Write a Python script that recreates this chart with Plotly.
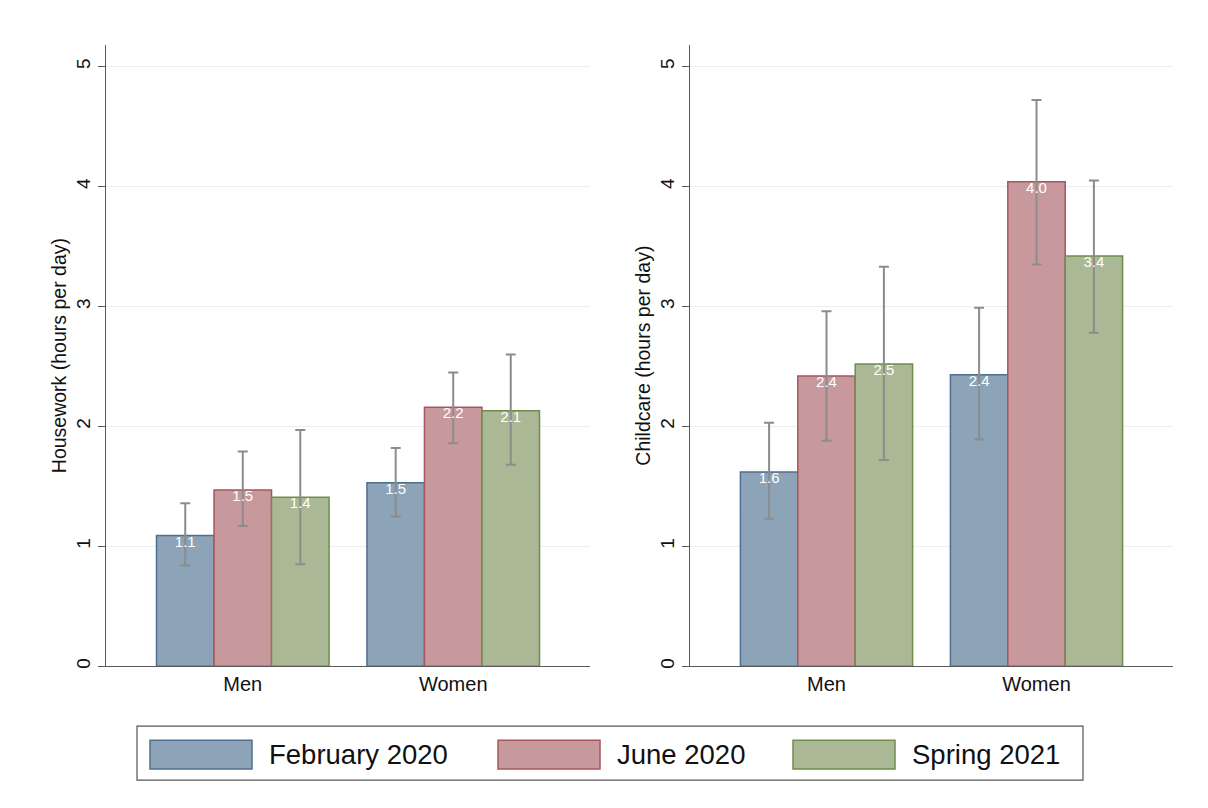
import plotly.graph_objects as go

# Group labels and survey waves
categories = ["Men", "Women"]
waves = ["February 2020", "June 2020", "Spring 2021"]

# Housework: mean hours per day with 95% CI bounds, per wave
housework_feb = [1.09, 1.53]
housework_jun = [1.47, 2.16]
housework_spr = [1.41, 2.13]
housework_feb_lo = [0.84, 1.25]
housework_feb_hi = [1.36, 1.82]
housework_jun_lo = [1.17, 1.86]
housework_jun_hi = [1.79, 2.45]
housework_spr_lo = [0.85, 1.68]
housework_spr_hi = [1.97, 2.60]

# Childcare: mean hours per day with 95% CI bounds, per wave
childcare_feb = [1.62, 2.43]
childcare_jun = [2.42, 4.04]
childcare_spr = [2.52, 3.42]
childcare_feb_lo = [1.23, 1.89]
childcare_feb_hi = [2.03, 2.99]
childcare_jun_lo = [1.88, 3.35]
childcare_jun_hi = [2.96, 4.72]
childcare_spr_lo = [1.72, 2.78]
childcare_spr_hi = [3.33, 4.05]

y_ticks = [0, 1, 2, 3, 4, 5]

FONT = "Liberation Sans, Arial, sans-serif"
fills = ["#8da3b8", "#c8999c", "#abb895"]
edges = ["#4f6f8f", "#a8565e", "#6f8c4f"]
W, H = 1208, 808
GAP = 0.18

panels = [
    ("x", "y", [
        (housework_feb, housework_feb_lo, housework_feb_hi),
        (housework_jun, housework_jun_lo, housework_jun_hi),
        (housework_spr, housework_spr_lo, housework_spr_hi),
    ]),
    ("x2", "y2", [
        (childcare_feb, childcare_feb_lo, childcare_feb_hi),
        (childcare_jun, childcare_jun_lo, childcare_jun_hi),
        (childcare_spr, childcare_spr_lo, childcare_spr_hi),
    ]),
]

fig = go.Figure()
xpos = list(range(len(categories)))
for xa, ya, series in panels:
    for i, (vals, lo, hi) in enumerate(series):
        fig.add_trace(go.Bar(
            x=xpos, y=vals, xaxis=xa, yaxis=ya,
            name=waves[i], showlegend=False,
            offsetgroup=str(i), alignmentgroup=xa,
            marker=dict(color=fills[i], line=dict(color=edges[i], width=1.5)),
            error_y=dict(type="data", symmetric=False,
                         array=[h - v for h, v in zip(hi, vals)],
                         arrayminus=[v - l for v, l in zip(vals, lo)],
                         color="#8c8c8c", thickness=2, width=5),
            hoverinfo="skip",
        ))
    # value labels sit on top of the error bars, just under each bar's top
    for i, (vals, lo, hi) in enumerate(series):
        fig.add_trace(go.Scatter(
            x=xpos, y=vals, xaxis=xa, yaxis=ya,
            mode="text", showlegend=False,
            offsetgroup=str(i), alignmentgroup=xa,
            text=[f"{v:.1f}" for v in vals], textposition="bottom center",
            textfont=dict(color="white", size=15, family=FONT),
            hoverinfo="skip",
        ))

def px_x(p):
    return p / W

def px_y(p):
    return 1 - p / H

ydom = [px_y(668), px_y(45)]
axis_common_x = dict(
    range=[-0.65, 1.65], tickvals=xpos, ticktext=categories,
    showline=True, linecolor="#5a5a5a", linewidth=1.2,
    showgrid=False, zeroline=False, ticks="",
    tickfont=dict(size=20, family=FONT, color="#111"),
    fixedrange=True,
)
axis_common_y = dict(
    range=[0, 5.18], tickvals=y_ticks, tickangle=-90,
    showline=True, linecolor="#5a5a5a", linewidth=1.2,
    ticks="outside", ticklen=7, tickcolor="#5a5a5a",
    showgrid=True, gridcolor="#e8f0f1", gridwidth=1, zeroline=False,
    tickfont=dict(size=19, family=FONT, color="#111"),
    domain=ydom,
)

fig.update_layout(
    width=W, height=H,
    margin=dict(l=0, r=0, t=0, b=0),
    paper_bgcolor="white", plot_bgcolor="white",
    barmode="group", bargap=GAP, bargroupgap=0,
    scattermode="group", scattergap=GAP,
    showlegend=False,
    font=dict(family=FONT, color="#111"),
    xaxis=dict(domain=[px_x(106), px_x(590)], anchor="y", **axis_common_x),
    xaxis2=dict(domain=[px_x(690), px_x(1173)], anchor="y2", **axis_common_x),
    yaxis=dict(anchor="x", title=dict(text="Housework (hours per day)",
               font=dict(size=19.5, family=FONT), standoff=1), **axis_common_y),
    yaxis2=dict(anchor="x2", title=dict(text="Childcare (hours per day)",
                font=dict(size=19.5, family=FONT), standoff=1), **axis_common_y),
)

# Legend drawn as a boxed row of large swatches
shapes = [dict(type="rect", xref="paper", yref="paper",
               x0=px_x(137), x1=px_x(1083), y0=px_y(782), y1=px_y(728),
               line=dict(color="#555", width=1.2), fillcolor="white")]
annotations = []
swatch_left = [150, 498, 793]
for i, name in enumerate(waves):
    x0 = swatch_left[i]
    shapes.append(dict(type="rect", xref="paper", yref="paper",
                       x0=px_x(x0), x1=px_x(x0 + 102),
                       y0=px_y(771), y1=px_y(742),
                       line=dict(color=edges[i], width=1.5), fillcolor=fills[i]))
    annotations.append(dict(xref="paper", yref="paper",
                            x=px_x(x0 + 117), y=px_y(756.5),
                            xanchor="left", yanchor="middle", showarrow=False,
                            text=name, font=dict(size=27.5, family=FONT, color="#111")))
fig.update_layout(shapes=shapes, annotations=annotations)

fig.write_html("out.html")
